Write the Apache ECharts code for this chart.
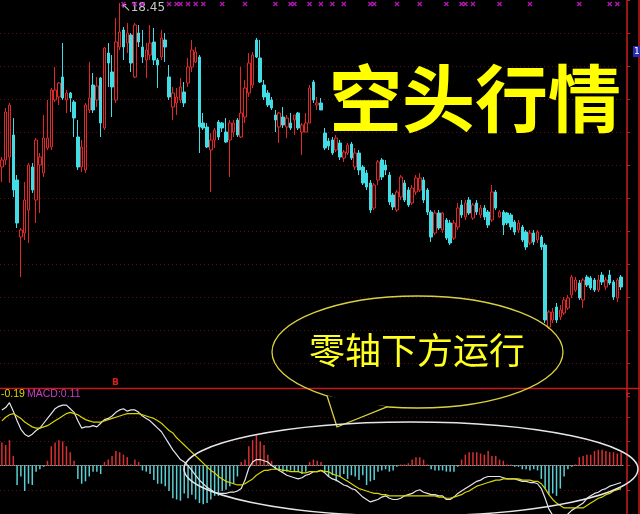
<!DOCTYPE html>
<html>
<head>
<meta charset="utf-8">
<style>
html, body { margin: 0; padding: 0; background: #000; }
#main { width: 640px; height: 514px; }
</style>
<script src="https://cdn.jsdelivr.net/npm/echarts@6/dist/echarts.min.js"></script>
</head>
<body>
<div id="main"></div>
<script>
// 日K线：[开盘, 收盘, 最低, 最高]
var candles = [
    [16.81,16.88,16.66,16.91],[16.88,17.36,16.83,17.40],[16.91,17.43,16.65,17.45],[17.13,16.58,16.51,17.30],[16.68,16.25,16.20,16.73],
    [16.11,16.18,15.71,16.20],[16.15,16.48,16.08,16.66],[16.38,16.83,16.05,16.85],[16.81,16.58,16.55,16.85],[16.48,17.08,16.25,17.10],
    [16.83,16.91,16.35,16.95],[16.75,17.10,16.71,17.33],[17.00,17.10,16.98,17.48],[17.01,17.58,16.98,17.60],[17.48,17.58,17.46,17.81],
    [17.51,17.65,17.43,17.66],[17.71,17.50,17.48,18.05],[17.48,17.55,17.35,17.58],[17.55,17.50,17.36,17.56],[17.46,17.30,17.11,17.48],
    [17.11,16.81,16.78,17.28],[16.81,17.01,16.76,17.08],[16.78,17.43,16.75,17.45],[17.38,17.50,17.35,17.86],[17.63,17.38,17.35,17.75],
    [17.48,17.62,17.41,17.71],[17.70,17.25,17.11,17.71],[17.20,18.00,17.18,18.01],[17.95,17.85,17.61,18.05],[17.76,17.61,17.31,17.93],
    [17.48,18.06,17.45,18.30],[18.01,18.16,17.98,18.45],[18.18,18.01,17.88,18.21],[18.05,18.15,17.95,18.25],[18.13,17.85,17.76,18.15],
    [17.71,18.23,17.70,18.25],[18.15,18.06,18.01,18.23],[18.01,17.91,17.85,18.18],[17.88,17.98,17.70,18.05],[17.93,18.05,17.88,18.23],
    [18.06,17.88,17.83,18.20],[17.88,17.83,17.60,17.90],[17.91,18.10,17.88,18.18],[18.08,18.01,17.86,18.15],[17.71,17.51,17.48,17.83],
    [17.41,17.55,17.28,17.61],[17.45,17.51,17.33,17.60],[17.48,17.61,17.45,17.70],[17.56,17.45,17.41,17.66],[17.65,17.81,17.61,17.90],
    [17.81,17.98,17.76,18.08],[17.86,17.96,17.85,18.01],[17.91,17.21,16.95,17.93],[17.25,17.20,17.18,17.35],[17.21,17.01,17.00,17.25],
    [16.98,17.08,16.56,17.15],[17.08,17.18,17.00,17.20],[17.26,17.11,17.08,17.28],[17.25,17.20,17.16,17.26],[17.16,17.06,17.05,17.30],
    [17.08,17.25,16.71,17.28],[17.16,17.25,17.11,17.28],[17.28,17.13,17.11,17.30],[17.11,17.35,17.10,17.81],[17.31,17.60,17.25,17.68],
    [17.55,17.85,17.51,17.95],[17.63,17.93,17.60,17.96],[18.08,17.91,17.90,18.10],[17.90,17.66,17.65,18.08],[17.63,17.51,17.48,17.68],
    [17.55,17.43,17.41,17.58],[17.48,17.40,17.38,17.51],[17.33,17.28,17.16,17.38],[17.21,17.35,17.05,17.36],[17.31,17.23,17.20,17.41],
    [17.21,17.30,17.10,17.33],[17.25,17.20,17.18,17.35],[17.28,17.33,17.13,17.33],[17.35,17.20,17.18,17.36],[17.16,17.23,16.93,17.25],
    [17.16,17.25,17.16,17.35],[17.25,17.60,17.25,17.63],[17.66,17.48,17.45,17.68],[17.43,17.45,17.38,17.51],[17.45,17.38,17.38,17.50],
    [17.15,17.00,16.98,17.20],[17.07,17.02,16.98,17.10],[17.08,16.95,16.93,17.11],[16.98,17.10,16.96,17.13],[17.05,16.91,16.88,17.08],
    [16.90,16.96,16.86,16.98],[16.95,17.03,16.93,17.05],[17.04,16.90,16.88,17.06],[16.81,16.95,16.78,17.00],[16.95,16.78,16.73,16.98],
    [16.81,16.65,16.63,16.83],[16.75,16.61,16.58,16.78],[16.65,16.38,16.35,16.68],[16.40,16.63,16.38,16.65],[16.68,16.86,16.63,16.88],
    [16.88,16.71,16.68,16.90],[16.83,16.78,16.73,16.88],[16.73,16.46,16.43,16.76],[16.53,16.41,16.38,16.55],[16.38,16.56,16.36,16.58],
    [16.51,16.71,16.48,16.73],[16.65,16.48,16.46,16.68],[16.58,16.43,16.41,16.61],[16.45,16.60,16.43,16.63],[16.56,16.70,16.53,16.73],
    [16.58,16.70,16.56,16.75],[16.68,16.48,16.45,16.71],[16.58,16.36,16.33,16.60],[16.36,16.11,16.06,16.38],[16.15,16.35,16.13,16.38],
    [16.35,16.20,16.18,16.38],[16.18,16.35,16.15,16.36],[16.28,16.10,16.08,16.30],[16.25,16.05,16.03,16.28],[16.10,16.25,16.08,16.28],
    [16.21,16.40,16.18,16.45],[16.43,16.33,16.30,16.48],[16.31,16.45,16.28,16.48],[16.48,16.35,16.33,16.51],[16.30,16.43,16.28,16.45],
    [16.45,16.36,16.33,16.48],[16.33,16.40,16.30,16.43],[16.40,16.31,16.28,16.43],[16.36,16.23,16.20,16.38],[16.28,16.56,16.26,16.63],
    [16.56,16.40,16.38,16.58],[16.31,16.36,16.30,16.38],[16.36,16.23,16.13,16.38],[16.35,16.25,16.23,16.36],[16.33,16.21,16.18,16.35],
    [16.26,16.16,16.13,16.28],[16.18,16.25,16.15,16.28],[16.21,16.08,16.06,16.23],[16.16,16.01,15.98,16.18],[16.05,16.15,16.03,16.18],
    [16.15,16.06,16.03,16.18],[16.08,16.16,16.05,16.18],[16.11,16.01,15.98,16.13],[16.03,15.28,15.25,16.05],[15.21,15.36,15.19,15.38],
    [15.28,15.36,15.25,15.40],[15.41,15.28,15.25,15.45],[15.31,15.38,15.28,15.43],[15.35,15.48,15.33,15.51],[15.40,15.50,15.38,15.53],
    [15.53,15.71,15.50,15.73],[15.58,15.68,15.56,15.71],[15.65,15.50,15.48,15.68],[15.48,15.68,15.40,15.70],[15.71,15.63,15.61,15.73],
    [15.70,15.60,15.58,15.72],[15.68,15.58,15.56,15.70],[15.58,15.68,15.56,15.73],[15.73,15.66,15.63,15.76],[15.61,15.68,15.58,15.71],
    [15.73,15.65,15.63,15.78],[15.66,15.51,15.48,15.68],[15.50,15.68,15.46,15.70],[15.71,15.61,15.58,15.73]
];

// MACD 柱
var macd = [
    0.19,0.17,0.21,0.08,-0.16,-0.09,-0.21,-0.15,-0.16,-0.05,
    -0.03,-0.01,0.04,0.16,0.19,0.21,0.20,0.16,0.11,0.04,
    -0.11,-0.15,-0.13,-0.09,-0.05,-0.05,-0.07,0.03,0.05,0.08,
    0.12,0.11,0.09,0.07,0.01,0.05,0.03,-0.04,-0.05,-0.07,
    -0.12,-0.15,-0.15,-0.17,-0.21,-0.27,-0.28,-0.29,-0.23,-0.27,
    -0.24,-0.28,-0.31,-0.32,-0.31,-0.28,-0.25,-0.25,-0.21,-0.20,
    -0.17,-0.15,-0.09,0.03,0.05,0.16,0.21,0.25,0.20,0.17,
    0.09,0.04,-0.03,-0.04,-0.05,-0.05,-0.04,-0.05,-0.05,-0.07,
    -0.05,0.03,0.05,0.04,0.03,-0.05,-0.09,-0.08,-0.13,-0.09,
    -0.07,-0.11,-0.08,-0.09,-0.12,-0.08,-0.16,-0.13,-0.12,-0.05,
    -0.04,-0.03,-0.05,-0.04,-0.01,0.01,0.01,0.02,0.05,0.07,
    0.07,0.05,0.01,-0.03,-0.04,-0.04,-0.04,-0.05,-0.05,-0.05,
    -0.01,0.05,0.09,0.11,0.11,0.11,0.10,0.09,0.12,0.08,
    0.08,0.05,0.04,0.01,0.01,-0.01,-0.01,-0.03,-0.03,-0.04,
    -0.03,-0.04,-0.11,-0.19,-0.24,-0.23,-0.25,-0.19,-0.09,-0.03,
    -0.01,0.01,0.07,0.08,0.09,0.09,0.12,0.13,0.13,0.12,
    0.11,0.11,0.10,0.11
];

// DIF 白线
var dif = [
    0.46,0.48,0.52,0.45,0.37,0.30,0.26,0.24,0.26,0.29,
    0.31,0.35,0.39,0.43,0.47,0.49,0.50,0.50,0.47,0.44,
    0.37,0.31,0.32,0.32,0.33,0.32,0.35,0.38,0.39,0.41,
    0.44,0.46,0.47,0.45,0.46,0.46,0.44,0.41,0.39,0.37,
    0.34,0.31,0.28,0.23,0.18,0.13,0.09,0.05,0.03,0.00,
    -0.04,-0.08,-0.12,-0.15,-0.18,-0.20,-0.22,-0.23,-0.23,-0.23,
    -0.22,-0.22,-0.21,-0.19,-0.12,-0.02,0.03,0.05,0.05,0.04,
    0.03,0.00,-0.02,-0.04,-0.06,-0.08,-0.09,-0.10,-0.11,-0.10,
    -0.08,-0.07,-0.05,-0.05,-0.04,-0.06,-0.09,-0.11,-0.12,-0.14,
    -0.16,-0.17,-0.19,-0.20,-0.23,-0.26,-0.28,-0.30,-0.29,-0.28,
    -0.26,-0.25,-0.27,-0.28,-0.28,-0.27,-0.25,-0.24,-0.23,-0.21,
    -0.20,-0.22,-0.23,-0.24,-0.24,-0.25,-0.25,-0.28,-0.28,-0.26,
    -0.23,-0.21,-0.19,-0.17,-0.15,-0.13,-0.12,-0.10,-0.09,-0.09,
    -0.09,-0.09,-0.10,-0.11,-0.11,-0.11,-0.12,-0.13,-0.13,-0.14,
    -0.14,-0.15,-0.19,-0.27,-0.36,-0.41,-0.43,-0.44,-0.42,-0.40,
    -0.37,-0.35,-0.33,-0.31,-0.27,-0.25,-0.23,-0.22,-0.20,-0.19,
    -0.17,-0.16,-0.15,-0.14
];

// DEA 黄线
var dea = [
    0.37,0.40,0.42,0.43,0.41,0.39,0.36,0.34,0.32,0.31,
    0.31,0.32,0.33,0.35,0.37,0.39,0.41,0.43,0.44,0.43,
    0.42,0.40,0.38,0.37,0.36,0.36,0.36,0.37,0.38,0.39,
    0.40,0.41,0.42,0.43,0.43,0.43,0.43,0.42,0.41,0.40,
    0.39,0.37,0.35,0.32,0.29,0.27,0.23,0.20,0.17,0.14,
    0.11,0.08,0.05,0.02,-0.01,-0.04,-0.06,-0.09,-0.11,-0.13,
    -0.14,-0.15,-0.16,-0.16,-0.15,-0.13,-0.11,-0.08,-0.06,-0.04,
    -0.04,-0.03,-0.03,-0.03,-0.04,-0.04,-0.05,-0.05,-0.05,-0.06,
    -0.06,-0.05,-0.05,-0.05,-0.04,-0.05,-0.05,-0.07,-0.08,-0.09,
    -0.11,-0.13,-0.15,-0.17,-0.19,-0.20,-0.21,-0.22,-0.23,-0.23,
    -0.24,-0.24,-0.25,-0.25,-0.25,-0.25,-0.25,-0.25,-0.25,-0.25,
    -0.25,-0.25,-0.25,-0.25,-0.25,-0.26,-0.26,-0.27,-0.27,-0.26,
    -0.25,-0.24,-0.22,-0.21,-0.19,-0.17,-0.16,-0.15,-0.14,-0.13,
    -0.12,-0.12,-0.11,-0.11,-0.11,-0.11,-0.11,-0.12,-0.12,-0.12,
    -0.13,-0.13,-0.15,-0.19,-0.24,-0.28,-0.31,-0.33,-0.35,-0.35,
    -0.35,-0.35,-0.35,-0.35,-0.33,-0.31,-0.29,-0.27,-0.26,-0.24,
    -0.23,-0.21,-0.20,-0.19
];

// 顶部信号点所在的K线序号
var signalDays = [32,35,37,44,46,47,49,51,53,58,64,72,76,77,81,84,87,90,97,98,104,110,117,121,122,124,131,139,152,160,162];
var signalLevel = 18.44;

// 坐标轴
var priceMin = 14.52, priceMax = 18.48, priceStep = 0.33;
var macdMin = -0.4, macdMax = 0.6, macdStep = 0.2;

var days = candles.map(function (c, i) { return 'D' + (i + 1); });

var upColor = '#e0282a';
var downColor = '#44dce4';
var gridLineColor = '#5e1010';
var axisRed = '#d01c1c';

var mychart = echarts.init(document.getElementById('main'));

option = {
    backgroundColor: '#000',
    animation: false,
    grid: [
        { left: 0, right: 17, top: 0, height: 396 },
        { left: 0, right: 17, top: 393, height: 125 }
    ],
    xAxis: [
        {
            type: 'category', gridIndex: 0, data: days,
            axisLine: { show: false }, axisTick: { show: false }, axisLabel: { show: false }
        },
        {
            type: 'category', gridIndex: 1, data: days,
            axisLine: { onZero: true, lineStyle: { color: '#9c9c9c', type: 'dotted' } },
            axisTick: { show: false }, axisLabel: { show: false }
        }
    ],
    yAxis: [
        {
            type: 'value', gridIndex: 0, position: 'right', offset: 4,
            min: priceMin, max: priceMax, interval: priceStep,
            axisLine: { show: true, lineStyle: { color: axisRed, width: 1.5 } },
            axisTick: { show: true, length: 3, lineStyle: { color: axisRed } },
            axisLabel: { show: false },
            splitLine: {
                show: true, showMinLine: false, showMaxLine: false,
                lineStyle: { color: gridLineColor, type: [1, 3] }
            }
        },
        {
            type: 'value', gridIndex: 1, position: 'right', offset: 4,
            min: macdMin, max: macdMax, interval: macdStep,
            axisLine: { show: true, lineStyle: { color: axisRed, width: 1.5 } },
            axisTick: { show: true, length: 3, lineStyle: { color: axisRed } },
            axisLabel: { show: false },
            splitLine: {
                show: true, showMinLine: false, showMaxLine: false,
                lineStyle: { color: gridLineColor, type: [1, 3] }
            }
        }
    ],
    series: [
        {
            type: 'candlestick',
            xAxisIndex: 0, yAxisIndex: 0,
            data: candles,
            barWidth: 3,
            itemStyle: {
                color: '#000',
                color0: downColor,
                borderColor: upColor,
                borderColor0: downColor,
                borderWidth: 1
            },
            markPoint: {
                symbol: 'circle',
                symbolSize: 0,
                data: [{ type: 'max', valueDim: 'highest' }],
                label: {
                    show: true,
                    position: 'right',
                    distance: 1,
                    offset: [0, 5],
                    color: '#c8c8c8',
                    fontSize: 12,
                    fontFamily: 'DejaVu Sans',
                    formatter: function (p) { return '\u2196' + p.value.toFixed(2); }
                }
            }
        },
        {
            type: 'scatter',
            xAxisIndex: 0, yAxisIndex: 0,
            data: signalDays.map(function (d) { return [d, signalLevel]; }),
            symbol: 'path://M2,0L5,3L8,0L10,2L7,5L10,8L8,10L5,7L2,10L0,8L3,5L0,2Z',
            symbolSize: 5,
            itemStyle: { color: '#d41ed4' },
            z: 5
        },
        {
            type: 'bar',
            xAxisIndex: 1, yAxisIndex: 1,
            data: macd,
            barWidth: 1.5,
            itemStyle: {
                color: function (p) { return p.value >= 0 ? '#d83030' : '#5ccfd4'; }
            }
        },
        {
            type: 'line',
            xAxisIndex: 1, yAxisIndex: 1,
            data: dif,
            symbol: 'none',
            lineStyle: { color: '#e4e4ee', width: 1.2 }
        },
        {
            type: 'line',
            xAxisIndex: 1, yAxisIndex: 1,
            data: dea,
            symbol: 'none',
            lineStyle: { color: '#d6d600', width: 1.2 }
        }
    ],
    graphic: [
        // 主图与副图分隔线
        { type: 'line', z: 90, shape: { x1: 0, y1: 388.5, x2: 640, y2: 388.5 }, style: { stroke: '#c81a1a', lineWidth: 1.5 } },
        { type: 'line', z: 90, shape: { x1: 639, y1: 0, x2: 639, y2: 514 }, style: { stroke: '#c81a1a', lineWidth: 1.5 } },
        { type: 'rect', z: 90, shape: { x: 633, y: 46, width: 7, height: 11 }, style: { fill: '#2a2ab0' } },
        { type: 'text', z: 91, style: { text: '1', x: 634, y: 47, fill: '#fff', font: '9px "DejaVu Sans"' } },
        { type: 'text', z: 90, style: { text: 'B', x: 112, y: 378, fill: '#d82020', font: 'bold 9px "DejaVu Sans"' } },
        // MACD 参数
        {
            type: 'text', z: 90,
            style: { text: dea[dea.length - 1].toFixed(2), x: 1, y: 389, fill: '#d8d800', font: '10.5px "Liberation Sans"' }
        },
        {
            type: 'text', z: 90,
            style: { text: 'MACD:' + macd[macd.length - 1].toFixed(2), x: 27, y: 389, fill: '#c83cc8', font: '10.5px "Liberation Sans"' }
        },
        // 标题
        {
            type: 'text', z: 100,
            style: {
                text: '空头行情', x: 329, y: 98,
                fill: '#ffff00',
                font: 'bold 73px "Noto Sans CJK SC"',
                verticalAlign: 'middle', textVerticalAlign: 'middle'
            }
        },
        // 标注气泡
        {
            type: 'ellipse', z: 100,
            shape: { cx: 417.5, cy: 352, rx: 145.5, ry: 56 },
            style: { fill: 'none', stroke: '#d8d040', lineWidth: 1.3 }
        },
        {
            type: 'polygon', z: 101,
            shape: { points: [[327, 395.8], [337, 427], [387, 406.8]] },
            style: { fill: '#000', stroke: 'none' }
        },
        {
            type: 'polyline', z: 102,
            shape: { points: [[327, 395.8], [337, 427], [387, 406.8]] },
            style: { stroke: '#d8d040', lineWidth: 1.3, fill: 'none' }
        },
        {
            type: 'text', z: 103,
            style: {
                text: '零轴下方运行', x: 309, y: 350,
                fill: '#ffff20',
                font: '36px "Noto Sans CJK SC"',
                verticalAlign: 'middle', textVerticalAlign: 'middle'
            }
        },
        {
            type: 'ellipse', z: 104,
            shape: { cx: 411, cy: 469, rx: 227, ry: 47 },
            style: { fill: 'none', stroke: '#e6e6e6', lineWidth: 1.5 }
        }
    ]
};

mychart.setOption(option);
</script>
</body>
</html>
